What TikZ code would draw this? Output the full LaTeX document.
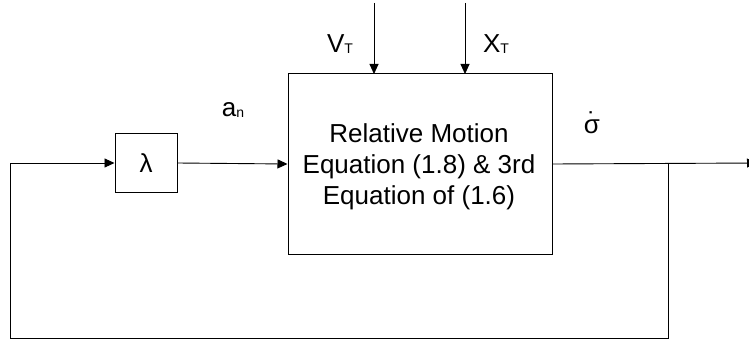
\documentclass[tikz,border=0pt]{standalone}
\usepackage{fontspec}
\setmainfont{Liberation Sans}
\usetikzlibrary{arrows.meta}
\newcommand\mysub[1]{\raisebox{-1pt}{\fontsize{14}{14}\selectfont #1}}
\newcommand\mydotted[1]{\ooalign{#1\cr\hidewidth\raisebox{2pt}{˙}\hidewidth\cr}}
\begin{document}
\begin{tikzpicture}[x=1pt,y=-1pt,
  line/.style={draw,line width=0.9pt},
  arr/.style={line,-{Triangle[length=10pt,width=9pt]}},
  blk/.style={draw,line width=1pt,inner sep=0pt},
  lbl/.style={font=\fontsize{26}{31}\selectfont,inner sep=0pt}]
\useasboundingbox (0,0) rectangle (749,342);
\node[blk,minimum width=264pt,minimum height=180pt] (sys) at (420,164) {};
\node[lbl,align=center] (systxt) at (419,167) {Relative Motion\\Equation (1.8) \& 3rd\\Equation of (1.6)};
\node[blk,minimum width=62pt,minimum height=59pt,font=\fontsize{26}{31}\selectfont] (lam) at (146,163) {λ};
\coordinate (vtop) at (374,3);
\coordinate (xtop) at (465,3);
\coordinate (vbot) at (374,74);
\coordinate (xbot) at (465,74);
\coordinate (outend) at (757,163);
\coordinate (tap) at (668,163);
\coordinate (br) at (668,338);
\coordinate (bl) at (10,338);
\coordinate (lin) at (10,163);
\draw[arr] (vtop) -- (vbot);
\draw[arr] (xtop) -- (xbot);
\draw[arr] (lam.east) -- (sys.west);
\draw[arr] (sys.east) -- (outend);
\draw[line] (tap) -- (br) -- (bl) -- (lin);
\draw[arr] (lin) -- (lam.west);
\node[lbl,anchor=base] (vt) at (340,53) {V\mysub{T}};
\node[lbl,anchor=base] (xt) at (496,53) {X\mysub{T}};
\node[lbl,anchor=base] (an) at (233,117) {a\mysub{n}};
\node[lbl,anchor=base] (sd) at (592,133) {\mydotted{σ}};
\end{tikzpicture}
\end{document}
